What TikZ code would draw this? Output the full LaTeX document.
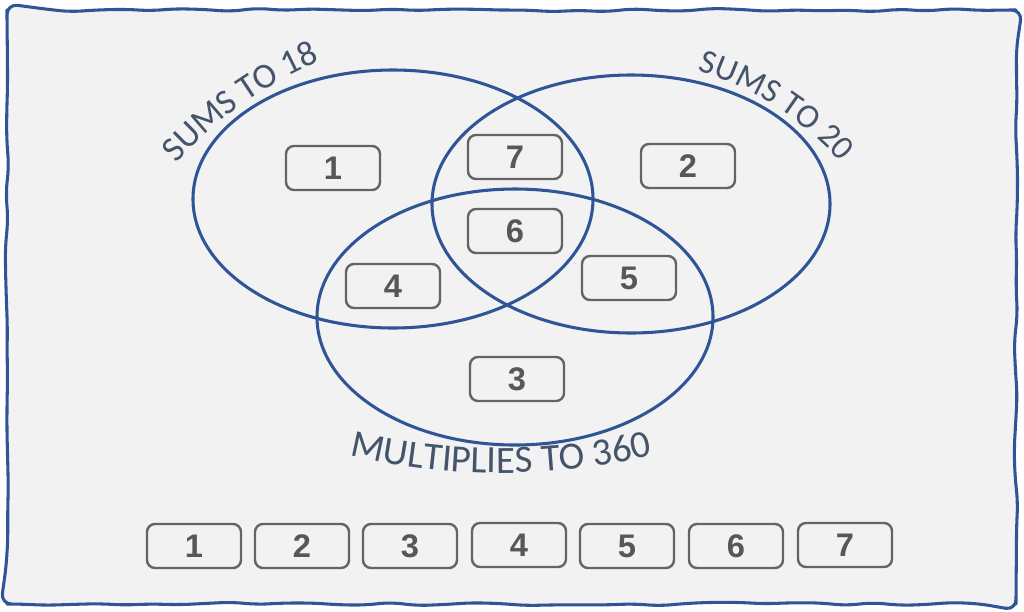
\documentclass[tikz,border=0pt]{standalone}
\usepackage{fontspec}
\setmainfont{Liberation Sans}
\newfontfamily\labfont{Carlito}
\usetikzlibrary{decorations.text,decorations.pathmorphing}
\definecolor{bgc}{HTML}{F2F2F2}
\definecolor{ringc}{HTML}{2F5597}
\definecolor{boxc}{HTML}{646464}
\definecolor{numc}{HTML}{575757}
\definecolor{labc}{HTML}{44546A}
\begin{document}
\begin{tikzpicture}[x=0.75pt,y=-0.75pt,
  ring/.style={draw=ringc, line width=2.3pt},
  numbox/.style={draw=boxc, line width=1.8pt, fill=bgc, rounded corners=6pt,
    minimum width=70.5pt, minimum height=33pt, inner sep=0pt,
    font=\fontsize{24.5}{24.5}\selectfont\bfseries, text=numc},
]
\useasboundingbox (0,0) rectangle (1024,611);
\pgfmathsetseed{5}
% wavy frame
\draw[draw=ringc, fill=bgc, line width=2.3pt, line join=round, decorate,
  decoration={random steps, segment length=20pt, amplitude=1.4pt}, rounded corners=8pt]
  (500,10) -- (1016,10) -- (1016,604) -- (7,604) -- (7,10) -- (500,10);
% sets
\draw[ring] (393,199) ellipse [x radius=200, y radius=129];
\draw[ring] (631,204) ellipse [x radius=199, y radius=129];
\draw[ring] (515,317) ellipse [x radius=198, y radius=128];
% boxes in the diagram
\node[numbox] (d1) at (333,168) {1};
\node[numbox] (d7) at (515,157) {7};
\node[numbox] (d2) at (688,166) {2};
\node[numbox] (d6) at (515,231) {6};
\node[numbox] (d4) at (393,286) {4};
\node[numbox] (d5) at (629,278) {5};
\node[numbox] (d3) at (517,379) {3};
% bottom row
\node[numbox] (b1) at (194,546) {1};
\node[numbox] (b2) at (302,546) {2};
\node[numbox] (b3) at (410,546) {3};
\node[numbox] (b4) at (519,545) {4};
\node[numbox] (b5) at (627,546) {5};
\node[numbox] (b6) at (736,546) {6};
\node[numbox] (b7) at (845,545) {7};
% curved labels
\path[decorate, decoration={text along path, text align=center, text color=labc,
    text={|\labfont\fontsize{26.5}{26.5}\selectfont|SUMS TO 18}}]
  (466,418) ++(-154:385) arc[start angle=-154, end angle=-97, radius=385];
\path[decorate, decoration={text along path, text align=center, text color=labc,
    text={|\labfont\fontsize{25.5}{25.5}\selectfont|SUMS TO 20}}]
  (605,374) ++(-86:317) arc[start angle=-86, end angle=-29, radius=317];
\path[decorate, decoration={text along path, text align=center, text color=labc,
    text={|\labfont\fontsize{29}{29}\selectfont|MULTIPLIES TO 360}}]
  (501,-177) ++(107:650) arc[start angle=107, end angle=73, radius=650];
\end{tikzpicture}
\end{document}
